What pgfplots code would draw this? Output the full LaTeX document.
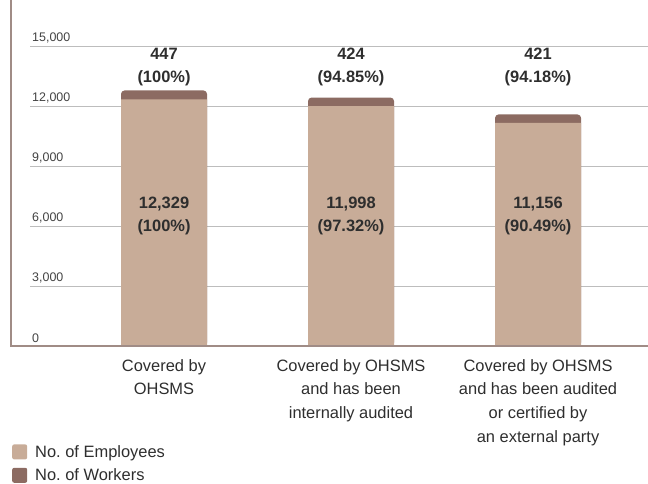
\documentclass[border=0pt]{standalone}
\usepackage{fontspec}
\setmainfont{Liberation Sans}
\usepackage{pgfplots}
\pgfplotsset{compat=1.18}
\definecolor{emp}{HTML}{C8AC98}
\definecolor{wrk}{HTML}{8C6B62}
\definecolor{axisc}{HTML}{A08C86}
\definecolor{gridc}{HTML}{BDBDBD}
\definecolor{txt}{HTML}{2E2E2E}
\frenchspacing
\begin{document}
\begin{tikzpicture}
\begin{axis}[
  scale only axis, width=618bp, height=346bp,
  xmin=-0.7166, xmax=2.588, ymin=0, ymax=17300,
  axis line style={draw=none},
  major tick length=0pt,
  ymajorgrids, grid style={gridc, line width=0.9bp},
  ytick={0,3000,6000,9000,12000,15000},
  /pgf/number format/assume math mode=true,
  /pgf/number format/1000 sep={,},
  scaled y ticks=false,
  yticklabel style={anchor=south west, inner sep=0pt, xshift=2bp, yshift=3bp, font=\fontsize{12.5}{14}\selectfont, text=txt!90},
  xtick={0,1,2},
  xticklabels={{Covered by\\OHSMS},{Covered by OHSMS\\and has been\\internally audited},{Covered by OHSMS\\and has been audited\\or certified by\\an external party}},
  xticklabel style={align=center, anchor=north, inner sep=0pt, yshift=-13bp, font=\fontsize{16.5}{23.8}\selectfont, text=txt},
  legend style={at={(rel axis cs:0,0)}, anchor=north west, xshift=-18bp, yshift=-97bp, draw=none, fill=none, inner sep=0pt, font=\fontsize{16.5}{18}\selectfont, text=txt, row sep=6bp, /tikz/every even column/.style={column sep=0pt}},
  legend cell align=left,
  legend image code/.code={\fill[#1, draw=none, rounded corners=2bp] (0bp,-7.5bp) rectangle (15bp,7.5bp);},
  clip=false,
]
\addplot[ybar, bar width=86bp, bar shift=0pt, fill=wrk, draw=none, rounded corners=3.5bp, forget plot]
  coordinates {(0,12776) (1,12422) (2,11577)};
\addplot[ybar, bar width=86bp, bar shift=0pt, fill=emp, draw=none, forget plot]
  coordinates {(0,12329) (1,11998) (2,11156)};
\addlegendimage{fill=emp, draw=none}
\addlegendentry{\hspace{6bp}No.\ of Employees}
\addlegendimage{fill=wrk, draw=none}
\addlegendentry{\hspace{6bp}No.\ of Workers}
\draw[axisc, line width=1.5bp] ([xshift=-19bp]rel axis cs:0,1) -- ([xshift=-19bp]rel axis cs:0,0) -- (rel axis cs:1,0);
\coordinate (TL) at (rel axis cs:0,1);
\coordinate (BR) at (rel axis cs:1,0);
\begin{scope}[every node/.style={align=center, text=txt, font=\bfseries\fontsize{16.5}{23.8}\selectfont}]
\node at (axis cs:0,13950) {447\\(100\%)};
\node at (axis cs:1,13950) {424\\(94.85\%)};
\node at (axis cs:2,13950) {421\\(94.18\%)};
\node at (axis cs:0,6500) {12,329\\(100\%)};
\node at (axis cs:1,6500) {11,998\\(97.32\%)};
\node at (axis cs:2,6500) {11,156\\(90.49\%)};
\end{scope}
\end{axis}
\pgfresetboundingbox
\path[use as bounding box] ([xshift=-30bp]TL) rectangle ([yshift=-138bp]BR);
\end{tikzpicture}
\end{document}
